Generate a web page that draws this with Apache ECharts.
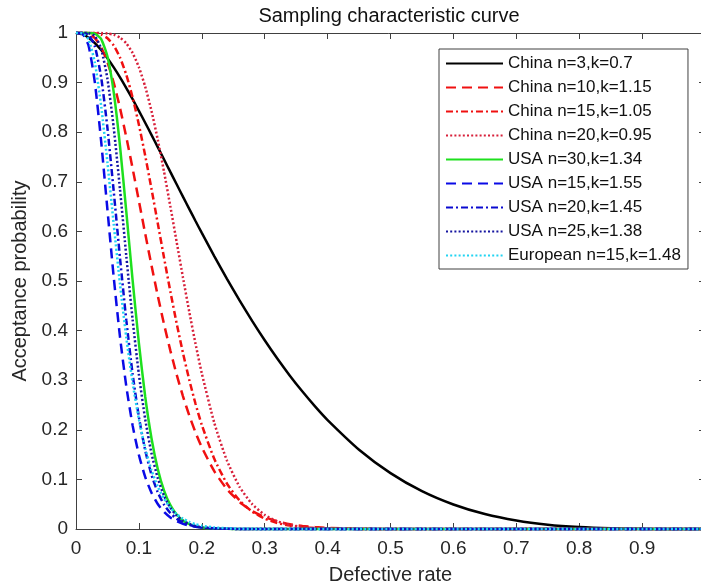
<!DOCTYPE html>
<html><head><meta charset="utf-8">
<script src="https://cdn.jsdelivr.net/npm/echarts@6/dist/echarts.min.js"></script>
<style>html,body{margin:0;padding:0;background:#fff}#c{width:701px;height:588px}</style>
</head><body><div id="c"></div>
<script>
// Defective rate sample points
const xs = [0,0.01,0.02,0.03,0.04,0.05,0.06,0.07,0.08,0.09,0.10,0.11,0.12,0.13,0.14,0.15,0.16,0.17,0.18,0.19,0.20,
  0.22,0.24,0.26,0.28,0.30,0.32,0.34,0.36,0.38,0.40,
  0.45,0.50,0.55,0.60,0.65,0.70,0.75,0.80,0.85,0.90,0.95,1.00];

// Acceptance probability per plan
const china3 = [1,0.9976,0.9905,0.9796,0.9656,0.9492,0.9306,0.9105,0.889,0.8665,0.8431,0.8191,0.7947,0.7699,0.745,0.7199,0.695,0.6701,0.6455,0.621,0.5969,
  0.5498,0.5043,0.4609,0.4196,0.3805,0.3437,0.3092,0.2771,0.2472,0.2196,
  0.1599,0.1127,0.0763,0.0494,0.0301,0.017,0.0086,0.0038,0.0013,0.0003,0,0];
const china10 = [1,0.9999,0.9979,0.9896,0.9713,0.9412,0.8997,0.8485,0.79,0.7269,0.6614,0.5956,0.5315,0.4703,0.4128,0.3597,0.3115,0.2679,0.2291,0.1948,0.1647,
  0.1161,0.0803,0.0545,0.0364,0.0239,0.0155,0.0098,0.0062,0.0038,0.0023,
  0.0006,0.0001,0,0,0,0,0,0,0,0,0,0];
const china15 = [1,1,0.9999,0.9994,0.9967,0.9894,0.9747,0.9504,0.9155,0.87,0.8151,0.7529,0.6858,0.6163,0.5467,0.479,0.4149,0.3553,0.3011,0.2525,0.2098,
  0.141,0.0916,0.0576,0.0352,0.0209,0.0121,0.0068,0.0037,0.002,0.001,
  0.0002,0,0,0,0,0,0,0,0,0,0,0];
const china20 = [1,1,1,1,0.9998,0.9991,0.9966,0.9906,0.9791,0.9597,0.931,0.8919,0.8429,0.7849,0.72,0.6504,0.5789,0.5075,0.4385,0.3736,0.3139,
  0.2133,0.1379,0.0851,0.0503,0.0285,0.0155,0.0081,0.0041,0.002,0.0009,
  0.0001,0,0,0,0,0,0,0,0,0,0,0];
const usa30 = [1,1,1,0.9985,0.9878,0.9525,0.8803,0.7715,0.6393,0.5018,0.3745,0.2671,0.1831,0.121,0.0774,0.0482,0.0292,0.0173,0.01,0.0057,0.0032,
  0.0009,0.0003,0.0001,0,0,0,0,0,0,0,
  0,0,0,0,0,0,0,0,0,0,0,0];
const usa15 = [1,0.9987,0.9745,0.8999,0.7815,0.6434,0.5074,0.3869,0.2873,0.2089,0.1493,0.1051,0.0732,0.0504,0.0344,0.0233,0.0157,0.0105,0.007,0.0046,0.003,
  0.0013,0.0005,0.0002,0.0001,0,0,0,0,0,0,
  0,0,0,0,0,0,0,0,0,0,0,0];
const usa20 = [1,1,0.9965,0.973,0.9107,0.8083,0.6804,0.5459,0.4204,0.3126,0.2257,0.1588,0.1094,0.0739,0.0491,0.0322,0.0208,0.0133,0.0084,0.0053,0.0033,
  0.0012,0.0004,0.0001,0,0,0,0,0,0,0,
  0,0,0,0,0,0,0,0,0,0,0,0];
const usa25 = [1,1,0.9996,0.9939,0.9681,0.9073,0.8089,0.684,0.5499,0.4223,0.3114,0.2214,0.1527,0.1024,0.067,0.0429,0.027,0.0166,0.0101,0.006,0.0036,
  0.0012,0.0004,0.0001,0,0,0,0,0,0,0,
  0,0,0,0,0,0,0,0,0,0,0,0];
const euro15 = [1,0.9995,0.9869,0.9397,0.8528,0.7385,0.614,0.4935,0.3859,0.2949,0.2211,0.1631,0.1187,0.0854,0.0608,0.0429,0.03,0.0209,0.0144,0.0098,0.0067,
  0.0031,0.0014,0.0006,0.0003,0.0001,0,0,0,0,0,
  0,0,0,0,0,0,0,0,0,0,0,0];

const seriesNames = ['China n=3,k=0.7','China n=10,k=1.15','China n=15,k=1.05','China n=20,k=0.95',
  'USA n=30,k=1.34','USA n=15,k=1.55','USA n=20,k=1.45','USA n=25,k=1.38','European n=15,k=1.48'];
const seriesValues = [china3, china10, china15, china20, usa30, usa15, usa20, usa25, euro15];

const FONT = '"Liberation Sans", Arial, Helvetica, sans-serif';
const DASH = [10, 6], DASHDOT = [7, 3, 2, 3], DOT = [2, 2.2];
const styles = [
  {color:'#000000', type:'solid'},
  {color:'#F01010', type:DASH},
  {color:'#F01010', type:DASHDOT},
  {color:'#D8203A', type:DOT},
  {color:'#1EE01E', type:'solid'},
  {color:'#0A0AE6', type:DASH},
  {color:'#0A0AD0', type:DASHDOT},
  {color:'#1515A0', type:DOT},
  {color:'#22D4F2', type:DOT}
];

const chart = echarts.init(document.getElementById('c'), null, {renderer:'canvas'});
const series = seriesNames.map((n, i) => ({
  type:'line', name:n,
  data: xs.map((x, j) => [x, seriesValues[i][j]]),
  symbol:'none', showSymbol:false, smooth:0.2, clip:false, animation:false,
  lineStyle:{color:styles[i].color, width:2.5, type:styles[i].type},
  itemStyle:{color:styles[i].color},
  z: 2 + i
}));

const axisCol = '#404040';
const labelStyle = {color:'#262626', fontSize:19, fontFamily:FONT};
chart.setOption({
  animation:false,
  backgroundColor:'#ffffff',
  title:{text:'Sampling characteristic curve', left:389, top:6, textAlign:'center', padding:0,
    textStyle:{fontSize:20, fontWeight:'normal', color:'#111', fontFamily:FONT}},
  grid:{left:76, top:33, width:629, height:496, containLabel:false, outerBoundsMode:'none'},
  legend:{orient:'vertical', left:439, top:49, padding:[6,7,5,6], itemWidth:57, itemHeight:14, itemGap:7,
    borderColor:axisCol, borderWidth:1, backgroundColor:'#fff', z:20,
    itemStyle:{opacity:0, borderWidth:0},
    textStyle:{fontSize:17, fontFamily:FONT, color:'#111'}, data:seriesNames},
  xAxis:[
    {type:'value', min:0, max:1, interval:0.1, position:'bottom',
     axisLine:{onZero:false, lineStyle:{color:axisCol, width:1}},
     axisTick:{inside:true, length:6, lineStyle:{color:axisCol}},
     axisLabel:Object.assign({margin:10, showMaxLabel:false}, labelStyle),
     splitLine:{show:false},
     name:'Defective rate', nameLocation:'middle', nameGap:36,
     nameTextStyle:{fontSize:20, fontFamily:FONT, color:'#262626'}},
    {type:'value', min:0, max:1, interval:0.1, position:'top',
     axisLine:{onZero:false, lineStyle:{color:axisCol, width:1}},
     axisTick:{inside:true, length:6, lineStyle:{color:axisCol}},
     axisLabel:{show:false}, splitLine:{show:false}}
  ],
  yAxis:[
    {type:'value', min:0, max:1, interval:0.1, position:'left',
     axisLine:{show:true, onZero:false, lineStyle:{color:axisCol, width:1}},
     axisTick:{show:true, inside:true, length:6, lineStyle:{color:axisCol}},
     axisLabel:Object.assign({margin:8}, labelStyle),
     splitLine:{show:false},
     name:'Acceptance probability', nameLocation:'middle', nameGap:40,
     nameTextStyle:{fontSize:20, fontFamily:FONT, color:'#262626'}},
    {type:'value', min:0, max:1, interval:0.1, position:'right',
     axisLine:{show:true, onZero:false, lineStyle:{color:axisCol, width:1}},
     axisTick:{show:true, inside:true, length:6, lineStyle:{color:axisCol}},
     axisLabel:{show:false}, splitLine:{show:false}}
  ],
  series: series
});
</script></body></html>
